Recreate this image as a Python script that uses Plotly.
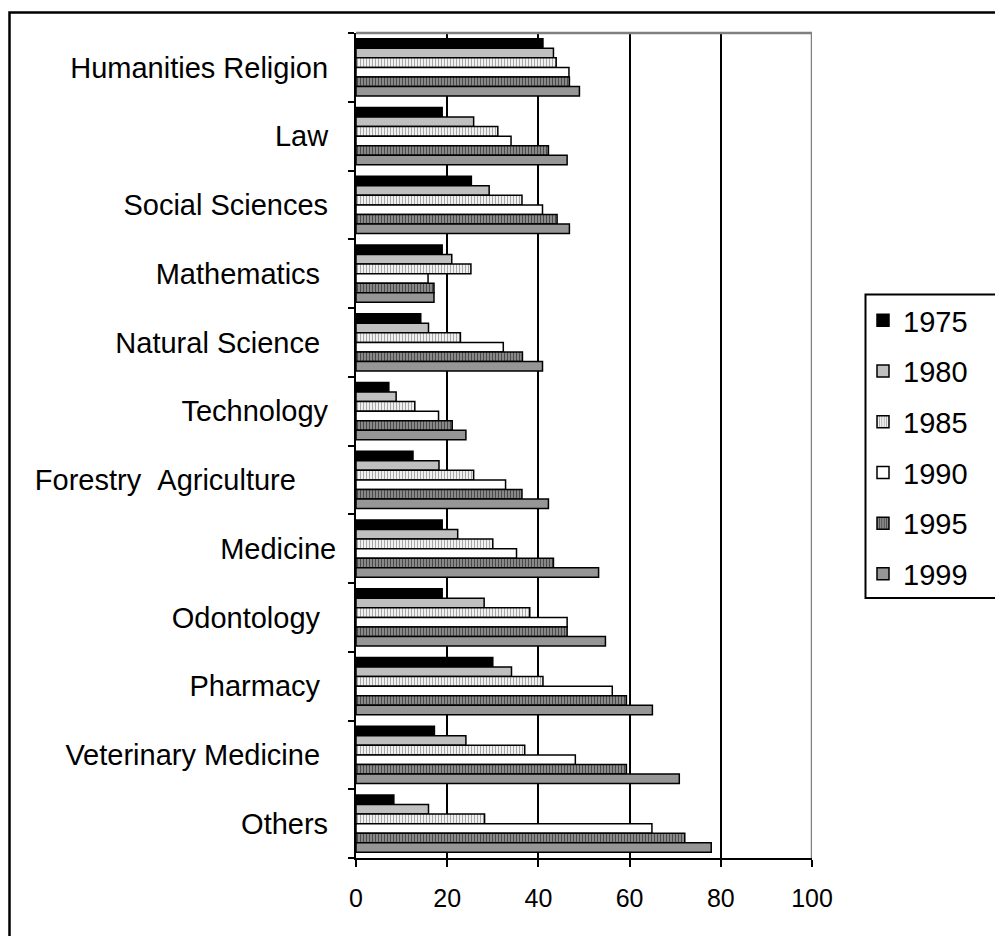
import plotly.graph_objects as go

# Share of women (%) by field of study, per year
categories = [
    "Humanities Religion", "Law", "Social Sciences", "Mathematics",
    "Natural Science", "Technology", "Forestry  Agriculture", "Medicine",
    "Odontology", "Pharmacy", "Veterinary Medicine", "Others",
]
# trailing spaces as typed in the source sheet
category_labels = [
    "Humanities Religion\u00a0", "Law\u00a0", "Social Sciences\u00a0", "Mathematics\u00a0\u00a0",
    "Natural Science\u00a0\u00a0", "Technology\u00a0", "Forestry\u00a0\u00a0Agriculture\u00a0\u00a0\u00a0\u00a0\u00a0",
    "Medicine", "Odontology\u00a0\u00a0", "Pharmacy\u00a0\u00a0", "Veterinary Medicine\u00a0\u00a0", "Others\u00a0",
]

years = ["1975", "1980", "1985", "1990", "1995", "1999"]

v1975 = [41.0, 18.9, 25.3, 18.9, 14.2, 7.2, 12.5, 18.9, 18.9, 30.0, 17.2, 8.3]
v1980 = [43.3, 25.8, 29.2, 21.0, 15.9, 8.8, 18.2, 22.3, 28.1, 34.1, 24.1, 15.9]
v1985 = [43.9, 31.1, 36.4, 25.2, 22.9, 12.9, 25.8, 30.0, 38.1, 41.0, 37.0, 28.2]
v1990 = [46.7, 34.0, 40.9, 15.8, 32.3, 18.1, 32.8, 35.2, 46.3, 56.2, 48.1, 64.9]
v1995 = [46.8, 42.2, 44.1, 17.1, 36.5, 21.1, 36.4, 43.3, 46.3, 59.3, 59.3, 72.1]
v1999 = [49.0, 46.3, 46.8, 17.1, 40.9, 24.1, 42.2, 53.2, 54.7, 65.0, 70.9, 77.9]

x_ticks = [0, 20, 40, 60, 80, 100]

series = [v1975, v1980, v1985, v1990, v1995, v1999]

# fill styles for each year
styles = [
    dict(color="#000000"),
    dict(color="#c0c0c0"),
    dict(color="#ffffff", pattern=dict(shape="|", size=3, solidity=0.45,
                                       fgcolor="#a8a8a8", bgcolor="#ffffff", fillmode="replace")),
    dict(color="#ffffff"),
    dict(color="#999999", pattern=dict(shape="|", size=3, solidity=0.45,
                                       fgcolor="#4a4a4a", bgcolor="#959595", fillmode="replace")),
    dict(color="#969696"),
]

FONT = "Liberation Sans, Arial, sans-serif"

fig = go.Figure()
for name, vals, st in zip(years, series, styles):
    fig.add_trace(go.Bar(
        y=categories, x=vals, name=name, orientation="h",
        legendgroup=name,
        marker=dict(line=dict(color="#000000", width=1.5), **st),
        hoverinfo="x+y+name",
    ))

# plot area geometry (pixels)
W, H = 995, 936
ML, MR, MT, MB = 356, 183, 33, 78
PW, PH = W - ML - MR, H - MT - MB


def px_x(px):
    return (px - ML) / PW


def px_y(py):
    return (H - MB - py) / PH


shapes = [
    # outer chart frame
    dict(type="rect", xref="paper", yref="paper",
         x0=px_x(9.5), x1=px_x(1010), y0=px_y(950), y1=px_y(12.5),
         line=dict(color="#000000", width=2.5), layer="below"),
    # legend frame
    dict(type="rect", xref="paper", yref="paper",
         x0=px_x(865.5), x1=px_x(1010), y0=px_y(598), y1=px_y(294.5),
         line=dict(color="#000000", width=2)),
    # grey plot-area border, top and right
    dict(type="line", xref="x", yref="paper", x0=0, x1=100, y0=1, y1=1,
         line=dict(color="#808080", width=2.5)),
    dict(type="line", xref="x", yref="paper", x0=100, x1=100, y0=0, y1=1,
         line=dict(color="#808080", width=2.5)),
]

fig.update_layout(
    width=W, height=H,
    margin=dict(l=ML, r=MR, t=MT, b=MB, pad=0),
    paper_bgcolor="#ffffff", plot_bgcolor="#ffffff",
    font=dict(family=FONT, size=29, color="#000000"),
    barmode="group", bargap=0.167, bargroupgap=0,
    showlegend=True,
    legend=dict(
        xref="container", yref="container",
        x=863 / W, y=1 - 295 / H, xanchor="left", yanchor="top",
        bgcolor="rgba(0,0,0,0)", borderwidth=0,
        font=dict(family=FONT, size=29, color="#000000"),
        traceorder="grouped", tracegroupgap=10,
    ),
    xaxis=dict(
        range=[0, 100], tickvals=x_ticks, ticktext=[str(v) for v in x_ticks],
        showgrid=True, gridcolor="#000000", gridwidth=1.5,
        zeroline=False, showline=True, linecolor="#000000", linewidth=2,
        ticks="outside", ticklen=7, tickwidth=2, tickcolor="#000000",
        tickfont=dict(family=FONT, size=25), ticklabelstandoff=10,
        fixedrange=True,
    ),
    xaxis2=dict(
        overlaying="x", anchor="y", side="bottom",
        range=[0, 100], tickvals=x_ticks, showticklabels=False,
        showgrid=False, zeroline=False, showline=False,
        ticks="inside", ticklen=5, tickwidth=2, tickcolor="#000000",
    ),
    yaxis=dict(
        categoryorder="array", categoryarray=categories,
        tickvals=categories, ticktext=category_labels,
        range=[11.5, -0.5],
        showgrid=False, zeroline=False,
        showline=True, linecolor="#000000", linewidth=2,
        ticks="outside", tickson="boundaries", ticklen=6, tickwidth=2, tickcolor="#000000",
        tickfont=dict(family=FONT, size=29), ticklabelstandoff=12,
        fixedrange=True,
    ),
    shapes=shapes,
)

fig.write_html("out.html")
